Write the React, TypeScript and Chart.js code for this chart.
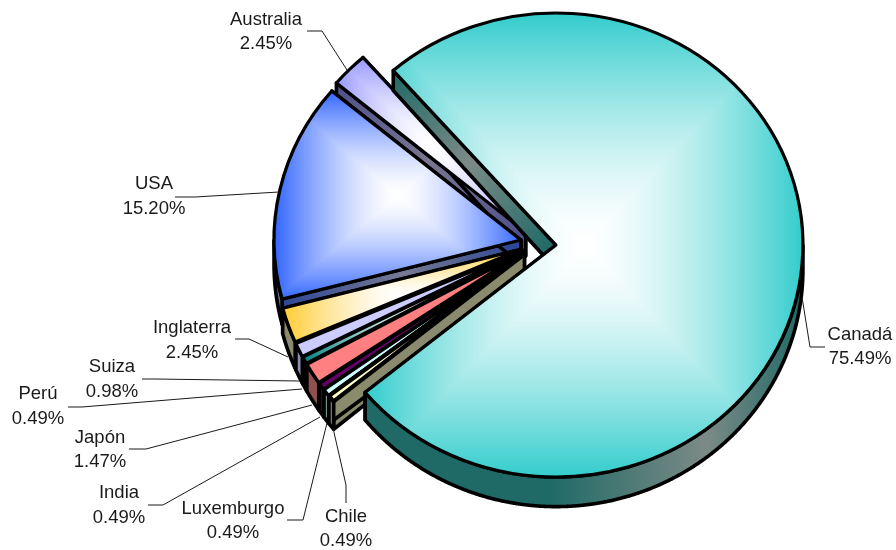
import React, { useEffect, useRef } from "react";
import { Chart, registerables } from "chart.js";

Chart.register(...registerables);

// ---- data ----
const countries = ["Canadá", "Chile", "Luxemburgo", "India", "Japón", "Perú", "Suiza", "Inglaterra", "USA", "Australia"];
const shares = [75.49, 0.49, 0.49, 0.49, 1.47, 0.49, 0.98, 2.45, 15.2, 2.45];
const shareLabels = ["75.49%", "0.49%", "0.49%", "0.49%", "1.47%", "0.49%", "0.98%", "2.45%", "15.20%", "2.45%"];

// ---- styles ----
const faceColors = ["#33CCCC", "#FFFFCC", "#CCFFFF", "#660066", "#FF8080", "#008080", "#CCCCFF", "#FFCC33", "#3366FF", "#9999FF"];
const faceWhiten = [1, 0, 0, 0, 0, 0.85, 0, 1, 1, 1];
const faceLine = [3.6, 4.8, 3.6, 3.6, 3.6, 3.6, 3.6, 3.6, 3.6, 3.6];
const wallDark = ["#1F6A66", "#8A8A6C", "#7FA8A8", "#4A004A", "#8F4F4F", "#1E5F5F", "#8080A8", "#8C8468", "#2C4796", "#4F4F8C"];
const wallMid = ["#7C8A86", "#8A8A70", "#8FB0B0", "#5A005A", "#8F5050", "#2F6B6B", "#9090B0", "#8F8C76", "#777A92", "#777790"];
const wallHold = [0.42, 0, 0, 0, 0, 0, 0, 0, 0, 0];
const wallMidStop = [0.78, 0.5, 0.5, 0.5, 0.5, 0.5, 0.5, 0.5, 0.5, 0.5];

// ---- layout ----
const CENTER = { x: 538.3, y: 243.7 };
const RX = 247;
const RY = 232;
const EXPLODE = 17.7;
const ROTATION = 318.8;
const LINE = 3.6;
const GRADIENT_POWER = 1.5;
const depthAt = (y: number) => 20 + (y - 70) * 0.0235;

const labelCenters = [
  [860, 335], [346, 517], [233, 509], [119, 493], [100, 438],
  [38, 394], [112, 367], [192, 328], [154, 184], [266, 20],
];
const lineGaps = [24, 24, 24, 25, 24, 25, 25, 25, 25, 24];
const leaders = [
  [[802, 297], [810, 347], [825, 347]],
  [[333, 428], [346, 485], [346, 503]],
  [[327, 423], [303, 520], [287, 520]],
  [[320, 417], [163, 505], [148, 505]],
  [[312, 405], [146, 449], [129, 449]],
  [[302, 389], [82, 407], [68, 407]],
  [[300, 381], [155, 379], [142, 379]],
  [[288, 357], [249, 339], [235, 339]],
  [[279, 192], [195, 197], [175, 197]],
  [[347, 70], [322, 31], [307, 31]],
];

function hexRgb(h: string) {
  return [1, 3, 5].map((i) => parseInt(h.slice(i, i + 2), 16));
}

function apexOf(arc: any) {
  const m = (arc.startAngle + arc.endAngle) / 2;
  return { x: CENTER.x + EXPLODE * Math.cos(m), y: CENTER.y + (EXPLODE * RY / RX) * Math.sin(m) };
}

function rimPoint(arc: any, a: number) {
  const ap = apexOf(arc);
  return { x: ap.x + RX * Math.cos(a), y: ap.y + RY * Math.sin(a) };
}

function makeFacePattern(ctx: CanvasRenderingContext2D, arc: any, i: number) {
  const ap = apexOf(arc);
  let x0 = ap.x, x1 = ap.x, y0 = ap.y, y1 = ap.y;
  for (let a = arc.startAngle; a <= arc.endAngle; a += 0.005) {
    const p = rimPoint(arc, a);
    x0 = Math.min(x0, p.x); x1 = Math.max(x1, p.x);
    y0 = Math.min(y0, p.y); y1 = Math.max(y1, p.y);
  }
  const off = document.createElement("canvas");
  off.width = ctx.canvas.width;
  off.height = ctx.canvas.height;
  const oc = off.getContext("2d")!;
  const L = Math.max(0, Math.floor(x0) - 4), T = Math.max(0, Math.floor(y0) - 4);
  const W = Math.min(off.width - L, Math.ceil(x1 - x0) + 8), H = Math.min(off.height - T, Math.ceil(y1 - y0) + 8);
  const img = oc.createImageData(W, H);
  const rgb = hexRgb(faceColors[i]);
  const cx = (x0 + x1) / 2, cy = (y0 + y1) / 2, hw = (x1 - x0) / 2 || 1, hh = (y1 - y0) / 2 || 1;
  const white = faceWhiten[i];
  for (let y = 0; y < H; y++) {
    for (let x = 0; x < W; x++) {
      const t = Math.min(1, Math.max(Math.abs(L + x - cx) / hw, Math.abs(T + y - cy) / hh));
      const k = 1 - white * (1 - Math.pow(t, GRADIENT_POWER));
      const o = (y * W + x) * 4;
      img.data[o] = 255 + (rgb[0] - 255) * k;
      img.data[o + 1] = 255 + (rgb[1] - 255) * k;
      img.data[o + 2] = 255 + (rgb[2] - 255) * k;
      img.data[o + 3] = 255;
    }
  }
  oc.putImageData(img, L, T);
  return ctx.createPattern(off, "no-repeat")!;
}

function wallStyle(ctx: CanvasRenderingContext2D, i: number, ax: number, ay: number, bx: number, by: number, stop: number, hold: number) {
  const g = ctx.createLinearGradient(ax, ay, bx, by);
  g.addColorStop(0, wallDark[i]);
  if (hold > 0) g.addColorStop(hold, wallDark[i]);
  g.addColorStop(stop, wallMid[i]);
  g.addColorStop(1, wallDark[i]);
  ctx.fillStyle = g;
  ctx.strokeStyle = "#000";
  ctx.lineWidth = LINE;
  ctx.lineJoin = "round";
}

function drawRadialWall(ctx: CanvasRenderingContext2D, arc: any, i: number, a: number) {
  const ap = apexOf(arc);
  const tip = rimPoint(arc, a);
  wallStyle(ctx, i, ap.x, ap.y, tip.x, tip.y, 0.5, 0);
  ctx.beginPath();
  ctx.moveTo(ap.x, ap.y);
  ctx.lineTo(tip.x, tip.y);
  ctx.lineTo(tip.x, tip.y + depthAt(tip.y));
  ctx.lineTo(ap.x, ap.y + depthAt(ap.y));
  ctx.closePath();
  ctx.fill();
  ctx.stroke();
}

function drawRimWall(ctx: CanvasRenderingContext2D, arc: any, i: number) {
  const pts: { x: number; y: number }[] = [];
  const step = 0.004;
  for (let a = arc.startAngle; a < arc.endAngle + step; a += step) {
    const c = Math.min(a, arc.endAngle);
    if (Math.sin(c) >= 0) pts.push(rimPoint(arc, c));
  }
  if (pts.length < 2) return;
  let minX = Infinity, maxX = -Infinity;
  pts.forEach((p) => { minX = Math.min(minX, p.x); maxX = Math.max(maxX, p.x); });
  wallStyle(ctx, i, minX, 0, maxX, 0, wallMidStop[i], wallHold[i]);
  ctx.beginPath();
  pts.forEach((p, k) => (k ? ctx.lineTo(p.x, p.y) : ctx.moveTo(p.x, p.y)));
  for (let k = pts.length - 1; k >= 0; k--) ctx.lineTo(pts[k].x, pts[k].y + depthAt(pts[k].y));
  ctx.closePath();
  ctx.fill();
  ctx.stroke();
}

const pie3d = {
  id: "pie3d",
  beforeDatasetsDraw(chart: any) {
    const { ctx } = chart;
    const arcs = chart.getDatasetMeta(0).data as any[];
    const order = arcs.map((_, i) => i).slice(1).reverse().concat(0);
    for (const i of order) {
      const arc = arcs[i];
      drawRadialWall(ctx, arc, i, arc.startAngle);
      drawRadialWall(ctx, arc, i, arc.endAngle);
      drawRimWall(ctx, arc, i);
      const ap = apexOf(arc);
      const pattern = makeFacePattern(ctx, arc, i);
      ctx.save();
      ctx.translate(ap.x, ap.y);
      ctx.scale(RX / arc.outerRadius, RY / arc.outerRadius);
      ctx.translate(-arc.x, -arc.y);
      pattern.setTransform(ctx.getTransform().inverse());
      arc.options = {
        backgroundColor: pattern,
        borderColor: "#000",
        borderWidth: faceLine[i],
        borderAlign: "center",
        borderJoinStyle: "round",
        borderDash: [],
        borderDashOffset: 0,
        borderRadius: 0,
        circular: true,
        offset: 0,
        spacing: 0,
      };
      arc.draw(ctx);
      ctx.restore();
    }
    return false;
  },
  afterDraw(chart: any) {
    const { ctx } = chart;
    ctx.save();
    ctx.strokeStyle = "#1a1a1a";
    ctx.lineWidth = 1;
    leaders.forEach((pts) => {
      ctx.beginPath();
      pts.forEach((p, k) => (k ? ctx.lineTo(p[0], p[1]) : ctx.moveTo(p[0], p[1])));
      ctx.stroke();
    });
    ctx.fillStyle = "#1a1a1a";
    ctx.font = '18.5px "Liberation Sans", Arial, sans-serif';
    ctx.textAlign = "center";
    ctx.textBaseline = "middle";
    countries.forEach((name, i) => {
      const [x, y] = labelCenters[i];
      ctx.fillText(name, x, y);
      ctx.fillText(shareLabels[i], x, y + lineGaps[i]);
    });
    ctx.restore();
  },
};

export default function App() {
  const ref = useRef<HTMLCanvasElement>(null);
  useEffect(() => {
    const chart = new Chart(ref.current!, {
      type: "pie",
      data: {
        labels: countries,
        datasets: [{ data: shares, backgroundColor: faceColors, borderColor: "#000", borderWidth: LINE }],
      },
      options: {
        responsive: false,
        animation: false,
        events: [],
        rotation: ROTATION,
        plugins: { legend: { display: false }, tooltip: { enabled: false } },
      },
      plugins: [pie3d],
    } as any);
    return () => chart.destroy();
  }, []);
  return (
    <div style={{ position: "fixed", left: 0, top: 0, width: 896, height: 550, background: "#fff" }}>
      <canvas ref={ref} width={896} height={550} style={{ display: "block" }} />
    </div>
  );
}
